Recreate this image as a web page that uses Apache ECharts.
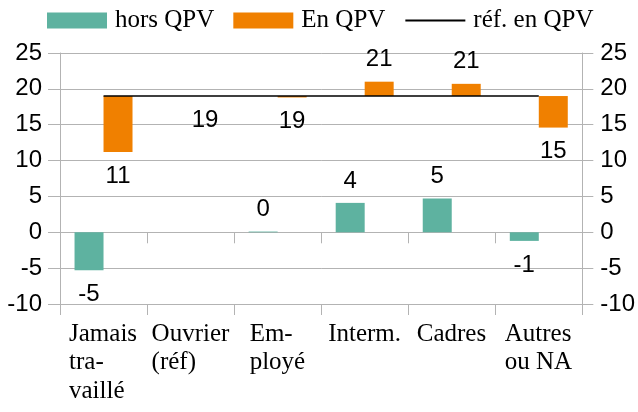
<!DOCTYPE html>
<html>
<head>
<meta charset="UTF-8">
<script src="https://cdn.jsdelivr.net/npm/echarts@6/dist/echarts.min.js"></script>
</head>
<body style="margin:0">
<div id="main" style="width:638px;height:412px"></div>
<script type="text/javascript">
var categories = ['Jamais\ntra-\nvaillé', 'Ouvrier\n(réf)', 'Em-\nployé', 'Interm.', 'Cadres', 'Autres\nou NA'];
var horsQPV = [-5.3, null, 0.1, 4.1, 4.7, -1.2];
var enQPV = [11.2, 19, 18.8, 21.0, 20.7, 14.6];
var refQPV = [19, 19, 19, 19, 19, 19];

var grey = '#b3b3b3';
var numFont = 'Liberation Sans';
var txtFont = 'Liberation Serif';

function labelAt(below) {
    return below ? { position: 'bottom', distance: 12 } : { position: 'top', distance: 10 };
}

// floating orange bars: invisible base + visible delta from the reference
var baseData = enQPV.map(function (v, i) { return Math.min(v, refQPV[i]); });
var deltaData = enQPV.map(function (v, i) {
    return {
        value: Math.abs(v - refQPV[i]),
        real: v,
        label: labelAt(v <= refQPV[i])
    };
});
var tealData = horsQPV.map(function (v) {
    if (v === null) return null;
    return { value: v, label: labelAt(v < 0) };
});

// block-centred, left-aligned category labels
var ctx = document.createElement('canvas').getContext('2d');
ctx.font = '25px "' + txtFont + '"';
var rich = {};
categories.forEach(function (c, i) {
    var w = Math.max.apply(null, c.split('\n').map(function (s) { return ctx.measureText(s).width; }));
    rich['c' + i] = {
        width: Math.ceil(w), align: 'left', fontFamily: txtFont,
        fontSize: 25, lineHeight: 28.5, color: '#000'
    };
});

var chartDom = document.getElementById('main');
var myChart = echarts.init(chartDom);

var numLabel = { show: true, fontFamily: numFont, fontSize: 24, color: '#000' };

var option = {
    animation: false,
    backgroundColor: '#fff',
    legend: {
        left: 47, top: 8, padding: 0,
        itemWidth: 60, itemHeight: 16, itemGap: 19,
        textStyle: { fontFamily: txtFont, fontSize: 25, color: '#000', padding: [0, 0, 0, 3] },
        data: [
            { name: 'hors QPV', icon: 'rect' },
            { name: 'En QPV', icon: 'rect' },
            { name: 'réf. en QPV', itemStyle: { opacity: 0 } }
        ]
    },
    grid: { left: 60, right: 55, top: 53, bottom: 108 },
    xAxis: [{
        type: 'category', data: categories,
        axisLine: { show: true, onZero: true, lineStyle: { color: grey } },
        axisTick: { show: true, length: 11, lineStyle: { color: grey } },
        axisLabel: { show: false },
        splitLine: { show: false }
    }, {
        type: 'category', data: categories, position: 'bottom',
        axisLine: { show: true, onZero: false, lineStyle: { color: grey } },
        axisTick: { show: true, length: 11, lineStyle: { color: grey } },
        axisLabel: {
            interval: 0, margin: 16,
            formatter: function (value, index) { return '{c' + index + '|' + value + '}'; },
            rich: rich
        },
        splitLine: { show: false }
    }],
    yAxis: [{
        type: 'value', min: -10, max: 25, interval: 5, position: 'left',
        axisLine: { show: true, lineStyle: { color: grey } },
        axisTick: { show: true, length: 12, lineStyle: { color: grey } },
        axisLabel: { margin: 18, fontFamily: numFont, fontSize: 24, color: '#000' },
        splitLine: { show: true, lineStyle: { color: grey } }
    }, {
        type: 'value', min: -10, max: 25, interval: 5, position: 'right',
        axisLine: { show: true, lineStyle: { color: grey } },
        axisTick: { show: true, length: 11, lineStyle: { color: grey } },
        axisLabel: { margin: 18, fontFamily: numFont, fontSize: 24, color: '#000' },
        splitLine: { show: false }
    }],
    series: [{
        name: 'hors QPV', type: 'bar', data: tealData,
        barWidth: '33.3%', barGap: '0%',
        itemStyle: { color: '#5eb2a0' },
        label: Object.assign({}, numLabel, {
            formatter: function (p) { return Math.round(p.value); }
        })
    }, {
        name: 'base', type: 'bar', stack: 'q', data: baseData,
        barWidth: '33.3%', silent: true,
        itemStyle: { color: 'transparent' }
    }, {
        name: 'En QPV', type: 'bar', stack: 'q', data: deltaData,
        barWidth: '33.3%',
        itemStyle: { color: '#f08000' },
        label: Object.assign({}, numLabel, {
            formatter: function (p) { return Math.round(p.data.real); }
        })
    }, {
        name: 'réf. en QPV', type: 'line', data: refQPV,
        symbol: 'none',
        lineStyle: { color: '#000', width: 1.5 },
        itemStyle: { color: '#000' },
        z: 5
    }]
};

option && myChart.setOption(option);
</script>
</body>
</html>
